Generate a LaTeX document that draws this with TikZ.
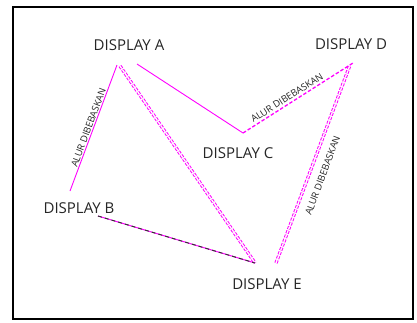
\documentclass[tikz,border=0pt]{standalone}
\usepackage{fontspec}
\setmainfont{Open Sans}
\usetikzlibrary{positioning}
\definecolor{FlowPink}{RGB}{255,0,255}

\begin{document}
\begin{tikzpicture}[x=1pt,y=-1pt,
  disp/.style={font=\fontsize{15}{16}\selectfont,text=black!85,inner sep=0pt},
  lbl/.style={font=\fontsize{9.5}{10}\selectfont,text=black!85,sloped,inner sep=1pt},
  solidline/.style={draw=FlowPink,line width=0.9pt},
  dashline/.style={draw=FlowPink,line width=1.3pt,dash pattern=on 3.5pt off 2pt},
  dblline/.style={draw=FlowPink,line width=1pt,double=white,double distance=1.3pt,dash pattern=on 3pt off 1.5pt}
]
  \useasboundingbox (0,0) rectangle (417,322);
  \draw[line width=1.8pt] (13,7) rectangle (413,319);
  % displays
  \node[disp] (dA) at (129,45) {DISPLAY A};
  \node[disp] (dB) at (79,208) {DISPLAY B};
  \node[disp] (dC) at (238,153) {DISPLAY C};
  \node[disp] (dD) at (351,44) {DISPLAY D};
  \node[disp] (dE) at (267,284) {DISPLAY E};
  % line ends
  \coordinate (aB) at (117,65);
  \coordinate (aE) at (120,66);
  \coordinate (aC) at (137,64);
  \coordinate (bA) at (70,191);
  \coordinate (bE) at (98,216);
  \coordinate (cJ) at (243,133);
  \coordinate (dJ) at (353,63);
  \coordinate (dE2) at (350,65);
  \coordinate (eA) at (255,263);
  \coordinate (eD) at (276,263);
  % paths
  \draw[solidline] (bA) -- node[lbl,above,pos=0.49] {ALUR DIBEBASKAN} (aB);
  \draw[dblline] (aE) -- (eA);
  \draw[solidline] (aC) -- (cJ);
  \draw[dashline] (cJ) -- node[lbl,above=1pt,pos=0.43] {ALUR DIBEBASKAN} (dJ);
  \draw[dblline] (eD) -- node[lbl,below=8pt,pos=0.465] {ALUR DIBEBASKAN} (dE2);
  \draw[draw=FlowPink,line width=1pt] (bE) -- (eA);
  \draw[black!80,line width=1pt,dash pattern=on 4pt off 3pt] (bE) -- (eA);
\end{tikzpicture}
\end{document}
